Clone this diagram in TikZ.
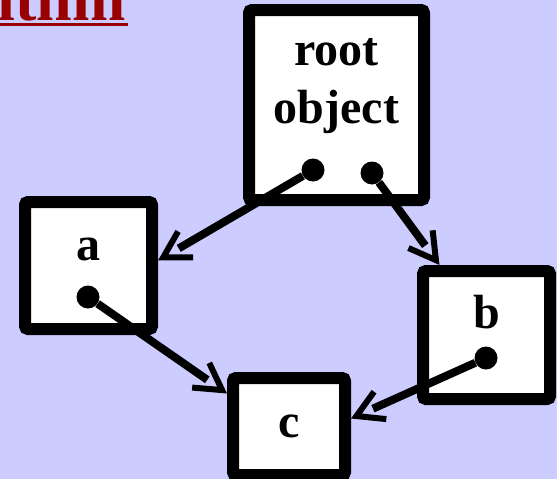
\documentclass[tikz,border=0pt]{standalone}
\usepackage{fontspec}
\setmainfont{Liberation Serif}
\usetikzlibrary{arrows.meta}
\usetikzlibrary{decorations.markings}

\definecolor{slidebg}{RGB}{204,204,255}
\definecolor{titlered}{RGB}{153,0,0}

\begin{document}
\begin{tikzpicture}[x=1pt,y=-1pt,
  obj/.style={draw=black,fill=white,line width=12pt,rounded corners=3pt,inner sep=0pt,
    font=\bfseries\fontsize{48}{58}\selectfont},
  ttl/.style={anchor=base east,inner sep=0pt,text=titlered,font=\bfseries\fontsize{64}{70}\selectfont},
  dot/.style={circle,fill=black,inner sep=0pt,minimum size=23pt},
  ptr/.style={line width=8pt,shorten >=24pt,
    postaction={decorate,decoration={markings,
      mark=at position 1 with {\arrow{Straight Barb[length=26pt,width=30pt,line width=6pt]}}}}}]
  % Background
  \path[use as bounding box,fill=slidebg] (0,0) rectangle (557,479);
  % Title
  \node[ttl] (ttl) at (126,20) {Algorithm};
  \draw[titlered,line width=3pt] ([yshift=-4.5pt]ttl.base west) -- ([xshift=2pt,yshift=-4.5pt]ttl.base east);
  % Objects
  \node[obj,minimum width=175pt,minimum height=190pt,align=center,text depth=48pt] (root) at (336.5,105) {root\\object};
  \node[obj,minimum width=127pt,minimum height=127pt,text height=22pt,text depth=33pt] (a) at (88.5,265.5) {a};
  \node[obj,minimum width=127pt,minimum height=128pt,text height=33pt,text depth=47pt] (b) at (486.5,335) {b};
  \node[obj,minimum width=112pt,minimum height=97pt] (c) at (289,426.5) {c};
  % Pointers
  \node[dot] (ra) at (313,170) {};
  \node[dot] (rb) at (372,173) {};
  \node[dot] (ac) at (88,297) {};
  \node[dot] (bc) at (486,358) {};
  \draw[ptr] (ra) -- ([yshift=5pt]a.east);
  \draw[ptr] (rb) -- ([xshift=-47pt]b.north);
  \draw[ptr] (ac) -- ([yshift=33pt]c.west);
  \draw[ptr] (bc) -- ([yshift=8pt]c.east);
\end{tikzpicture}
\end{document}
